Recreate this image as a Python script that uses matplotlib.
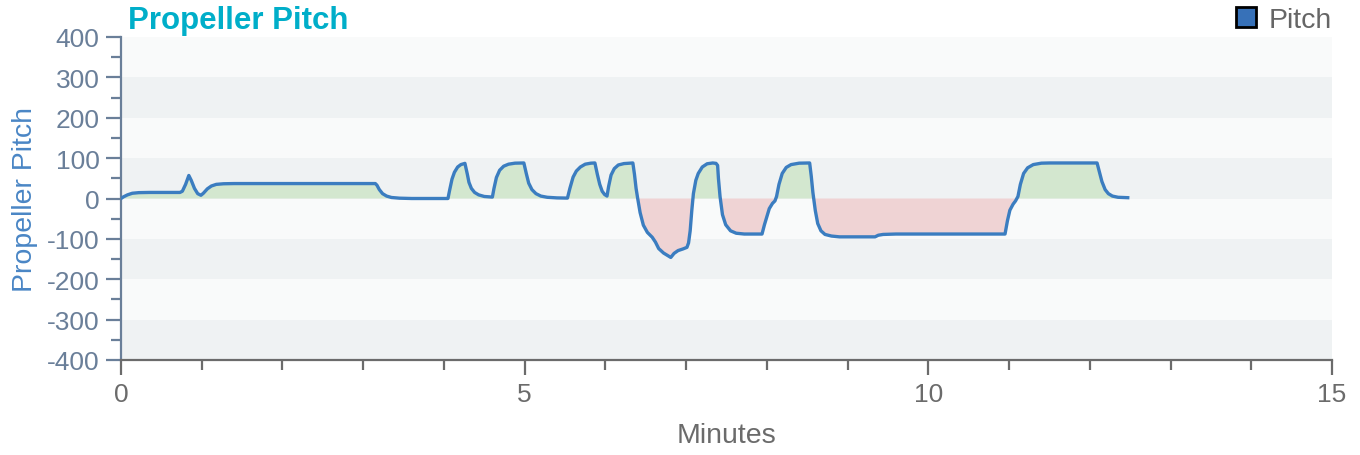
import matplotlib.pyplot as plt
import numpy as np
from matplotlib.lines import Line2D

# pitch trace (minutes, pitch)
minutes = [0.00, 0.03, 0.08, 0.14, 0.22, 0.35, 0.73, 0.76, 0.80, 0.84, 0.87, 0.91,
           0.95, 0.99, 1.02, 1.07, 1.12, 1.18, 1.27, 1.40, 3.15, 3.17, 3.20, 3.24,
           3.29, 3.35, 3.45, 3.60, 4.05, 4.07, 4.10, 4.13, 4.17, 4.21, 4.26, 4.29,
           4.31, 4.34, 4.38, 4.43, 4.50, 4.60, 4.62, 4.65, 4.69, 4.74, 4.80, 4.88,
           4.99, 5.02, 5.05, 5.09, 5.14, 5.20, 5.28, 5.40, 5.53, 5.56, 5.60, 5.64,
           5.69, 5.75, 5.82, 5.87, 5.90, 5.93, 5.96, 5.99, 6.02, 6.04, 6.07, 6.11,
           6.16, 6.23, 6.34, 6.36, 6.38, 6.40, 6.43, 6.47, 6.52, 6.58, 6.62, 6.66,
           6.72, 6.81, 6.85, 6.90, 6.96, 7.01, 7.03, 7.05, 7.07, 7.09, 7.12, 7.15,
           7.20, 7.26, 7.33, 7.37, 7.39, 7.40, 7.42, 7.45, 7.49, 7.55, 7.62, 7.72,
           7.94, 7.97, 8.00, 8.03, 8.07, 8.10, 8.12, 8.15, 8.19, 8.24, 8.30, 8.40,
           8.53, 8.55, 8.57, 8.60, 8.63, 8.67, 8.72, 8.80, 8.90, 9.34, 9.38, 9.44,
           9.60, 10.95, 10.98, 11.01, 11.05, 11.08, 11.11, 11.14, 11.18, 11.23, 11.30,
           11.40, 11.50, 12.09, 12.12, 12.15, 12.19, 12.23, 12.28, 12.35, 12.47]
pitch = [0, 4, 9, 13, 14.5, 15, 15, 18, 35, 57, 45, 25,
         12, 8, 13, 24, 31, 35, 36.5, 37, 37, 33, 22, 12,
         6, 2.5, 0.8, 0, 0, 20, 48, 65, 78, 84, 87, 60,
         40, 25, 15, 9, 5, 3.5, 25, 52, 70, 80, 85, 87.5,
         88, 62, 38, 22, 12, 6, 3, 1.5, 1, 25, 53, 68,
         78, 85, 87.5, 88, 60, 35, 18, 10, 6, 30, 58, 74,
         83, 86.5, 88, 60, 25, 0, -35, -66, -84, -96, -108, -124,
         -135, -146, -136, -129, -125, -121, -110, -80, -30, 12, 45, 62,
         78, 86, 88, 87, 82, 50, 5, -40, -65, -80, -86, -88,
         -88, -65, -45, -25, -12, -6, 5, 35, 62, 77, 84, 87.5,
         88, 55, 15, -30, -62, -80, -89, -93, -95, -95, -91, -89,
         -88, -88, -55, -29, -14, -6, 5, 35, 62, 76, 84,
         87.5, 88, 88, 65, 42, 22, 12, 6, 3, 2]

yticks = [400, 300, 200, 100, 0, -100, -200, -300, -400]
xticks = [0, 5, 10, 15]

plt.rcParams['font.family'] = ['Liberation Sans', 'DejaVu Sans']
plt.rcParams['axes.unicode_minus'] = False

fig = plt.figure(figsize=(13.6, 4.56), dpi=100)
ax = fig.add_axes([121/1360, 1-361/456, (1332-121)/1360, (361-38)/456])

# alternating bands
for i, lo in enumerate(range(-400, 400, 100)):
    col = '#eff2f3' if i % 2 == 0 else '#f9fafa'
    ax.axhspan(lo, lo+100, color=col, lw=0, zorder=0)

t = np.array(minutes)
p = np.array(pitch)
ax.fill_between(t, 0, p, where=p >= 0, interpolate=True, color='#d3e7cf', lw=0, zorder=1)
ax.fill_between(t, 0, p, where=p <= 0, interpolate=True, color='#efd3d4', lw=0, zorder=1)
ax.plot(t, p, color='#3b7dc0', lw=2.4, zorder=3, solid_joinstyle='round')

ax.set_xlim(0, 15)
ax.set_ylim(-400, 400)
ax.set_yticks(yticks)
ax.set_yticks(np.arange(-350, 400, 100), minor=True)
ax.set_xticks(xticks)
ax.set_xticks(np.arange(0, 16, 1), minor=True)

slate = '#6a7f99'
grey = '#6b6b6b'
for s in ['top', 'right']:
    ax.spines[s].set_visible(False)
ax.spines['left'].set_color(slate)
ax.spines['left'].set_linewidth(1.6)
ax.spines['bottom'].set_color(grey)
ax.spines['bottom'].set_linewidth(1.6)
ax.tick_params(axis='y', which='major', length=10.5, width=1.6, color=slate,
               labelcolor=slate, labelsize=19, pad=5)
ax.tick_params(axis='y', which='minor', length=7.5, width=1.6, color=slate)
ax.tick_params(axis='x', which='major', length=10.5, width=1.6, color=grey,
               labelcolor=grey, labelsize=19, pad=5)
ax.tick_params(axis='x', which='minor', length=7, width=1.6, color=grey)

ax.set_xlabel('Minutes', color=grey, fontsize=20.5, labelpad=12)
ax.set_ylabel('Propeller Pitch', color='#4a86c5', fontsize=20.5, labelpad=6)

fig.text(128/1360, 1-21/456, 'Propeller Pitch', color='#00aec9', fontsize=22.5,
         fontweight='bold', va='center', ha='left')

handle = Line2D([], [], marker='s', ls='none', markersize=14, markerfacecolor='#3771b8',
                markeredgecolor='black', markeredgewidth=2)
fig.legend([handle], ['Pitch'], loc='center right', bbox_to_anchor=(1332/1360, 1-21/456),
           frameon=False, fontsize=20.5, handletextpad=0.3, handlelength=1.0,
           labelcolor='#666666', borderaxespad=0, borderpad=0)

fig.savefig('out.png', dpi=100)
